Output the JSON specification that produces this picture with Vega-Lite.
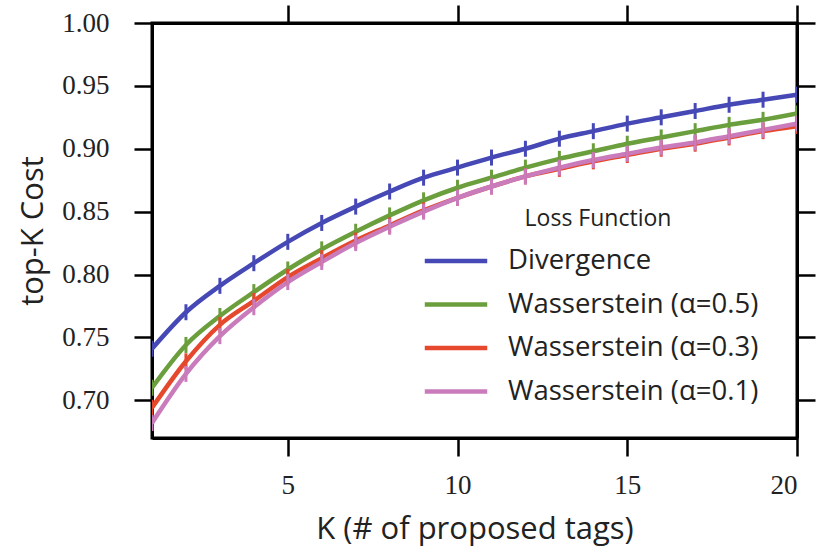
{
  "$schema": "https://vega.github.io/schema/vega-lite/v6.json",
  "autosize": "none",
  "padding": {"left": 152, "top": 23, "right": 20, "bottom": 118},
  "width": 645,
  "height": 415,
  "background": "white",
  "datasets": {
    "curves": [
      {"K": 1, "loss": "Divergence", "cost": 0.741}, {"K": 2, "loss": "Divergence", "cost": 0.770}, {"K": 3, "loss": "Divergence", "cost": 0.791}, {"K": 4, "loss": "Divergence", "cost": 0.809}, {"K": 5, "loss": "Divergence", "cost": 0.826}, {"K": 6, "loss": "Divergence", "cost": 0.841}, {"K": 7, "loss": "Divergence", "cost": 0.854}, {"K": 8, "loss": "Divergence", "cost": 0.866}, {"K": 9, "loss": "Divergence", "cost": 0.877}, {"K": 10, "loss": "Divergence", "cost": 0.885}, {"K": 11, "loss": "Divergence", "cost": 0.893}, {"K": 12, "loss": "Divergence", "cost": 0.900}, {"K": 13, "loss": "Divergence", "cost": 0.908}, {"K": 14, "loss": "Divergence", "cost": 0.914}, {"K": 15, "loss": "Divergence", "cost": 0.920}, {"K": 16, "loss": "Divergence", "cost": 0.925}, {"K": 17, "loss": "Divergence", "cost": 0.930}, {"K": 18, "loss": "Divergence", "cost": 0.935}, {"K": 19, "loss": "Divergence", "cost": 0.939}, {"K": 20, "loss": "Divergence", "cost": 0.943},
      {"K": 1, "loss": "Wasserstein (α=0.5)", "cost": 0.710}, {"K": 2, "loss": "Wasserstein (α=0.5)", "cost": 0.744}, {"K": 3, "loss": "Wasserstein (α=0.5)", "cost": 0.767}, {"K": 4, "loss": "Wasserstein (α=0.5)", "cost": 0.786}, {"K": 5, "loss": "Wasserstein (α=0.5)", "cost": 0.804}, {"K": 6, "loss": "Wasserstein (α=0.5)", "cost": 0.820}, {"K": 7, "loss": "Wasserstein (α=0.5)", "cost": 0.834}, {"K": 8, "loss": "Wasserstein (α=0.5)", "cost": 0.847}, {"K": 9, "loss": "Wasserstein (α=0.5)", "cost": 0.859}, {"K": 10, "loss": "Wasserstein (α=0.5)", "cost": 0.869}, {"K": 11, "loss": "Wasserstein (α=0.5)", "cost": 0.877}, {"K": 12, "loss": "Wasserstein (α=0.5)", "cost": 0.885}, {"K": 13, "loss": "Wasserstein (α=0.5)", "cost": 0.892}, {"K": 14, "loss": "Wasserstein (α=0.5)", "cost": 0.898}, {"K": 15, "loss": "Wasserstein (α=0.5)", "cost": 0.904}, {"K": 16, "loss": "Wasserstein (α=0.5)", "cost": 0.909}, {"K": 17, "loss": "Wasserstein (α=0.5)", "cost": 0.914}, {"K": 18, "loss": "Wasserstein (α=0.5)", "cost": 0.919}, {"K": 19, "loss": "Wasserstein (α=0.5)", "cost": 0.923}, {"K": 20, "loss": "Wasserstein (α=0.5)", "cost": 0.928},
      {"K": 1, "loss": "Wasserstein (α=0.3)", "cost": 0.694}, {"K": 2, "loss": "Wasserstein (α=0.3)", "cost": 0.731}, {"K": 3, "loss": "Wasserstein (α=0.3)", "cost": 0.760}, {"K": 4, "loss": "Wasserstein (α=0.3)", "cost": 0.779}, {"K": 5, "loss": "Wasserstein (α=0.3)", "cost": 0.798}, {"K": 6, "loss": "Wasserstein (α=0.3)", "cost": 0.813}, {"K": 7, "loss": "Wasserstein (α=0.3)", "cost": 0.827}, {"K": 8, "loss": "Wasserstein (α=0.3)", "cost": 0.839}, {"K": 9, "loss": "Wasserstein (α=0.3)", "cost": 0.851}, {"K": 10, "loss": "Wasserstein (α=0.3)", "cost": 0.861}, {"K": 11, "loss": "Wasserstein (α=0.3)", "cost": 0.870}, {"K": 12, "loss": "Wasserstein (α=0.3)", "cost": 0.878}, {"K": 13, "loss": "Wasserstein (α=0.3)", "cost": 0.884}, {"K": 14, "loss": "Wasserstein (α=0.3)", "cost": 0.890}, {"K": 15, "loss": "Wasserstein (α=0.3)", "cost": 0.895}, {"K": 16, "loss": "Wasserstein (α=0.3)", "cost": 0.900}, {"K": 17, "loss": "Wasserstein (α=0.3)", "cost": 0.904}, {"K": 18, "loss": "Wasserstein (α=0.3)", "cost": 0.909}, {"K": 19, "loss": "Wasserstein (α=0.3)", "cost": 0.914}, {"K": 20, "loss": "Wasserstein (α=0.3)", "cost": 0.918},
      {"K": 1, "loss": "Wasserstein (α=0.1)", "cost": 0.682}, {"K": 2, "loss": "Wasserstein (α=0.1)", "cost": 0.721}, {"K": 3, "loss": "Wasserstein (α=0.1)", "cost": 0.751}, {"K": 4, "loss": "Wasserstein (α=0.1)", "cost": 0.774}, {"K": 5, "loss": "Wasserstein (α=0.1)", "cost": 0.794}, {"K": 6, "loss": "Wasserstein (α=0.1)", "cost": 0.810}, {"K": 7, "loss": "Wasserstein (α=0.1)", "cost": 0.825}, {"K": 8, "loss": "Wasserstein (α=0.1)", "cost": 0.838}, {"K": 9, "loss": "Wasserstein (α=0.1)", "cost": 0.850}, {"K": 10, "loss": "Wasserstein (α=0.1)", "cost": 0.861}, {"K": 11, "loss": "Wasserstein (α=0.1)", "cost": 0.870}, {"K": 12, "loss": "Wasserstein (α=0.1)", "cost": 0.878}, {"K": 13, "loss": "Wasserstein (α=0.1)", "cost": 0.885}, {"K": 14, "loss": "Wasserstein (α=0.1)", "cost": 0.891}, {"K": 15, "loss": "Wasserstein (α=0.1)", "cost": 0.896}, {"K": 16, "loss": "Wasserstein (α=0.1)", "cost": 0.901}, {"K": 17, "loss": "Wasserstein (α=0.1)", "cost": 0.905}, {"K": 18, "loss": "Wasserstein (α=0.1)", "cost": 0.910}, {"K": 19, "loss": "Wasserstein (α=0.1)", "cost": 0.915}, {"K": 20, "loss": "Wasserstein (α=0.1)", "cost": 0.920}
    ]
  },
  "data": {"name": "curves"},
  "config": {
    "view": {"stroke": "black", "strokeWidth": 3},
    "axis": {
      "grid": false,
      "domainColor": "black",
      "domainWidth": 3,
      "tickColor": "black",
      "tickWidth": 2.5,
      "tickSize": 18,
      "labelFont": "Liberation Serif",
      "labelFontSize": 27,
      "labelColor": "#222222",
      "titleFont": "Open Sans",
      "titleFontSize": 31,
      "titleFontWeight": "normal",
      "titleColor": "#222222"
    }
  },
  "resolve": {"axis": {"x": "independent", "y": "independent"}},
  "layer": [
    {
      "mark": {"type": "line", "strokeWidth": 4.5, "interpolate": "monotone", "clip": true},
      "encoding": {
        "x": {"field": "K", "type": "quantitative", "scale": {"domain": [1, 20], "nice": false, "zero": false},
              "axis": {"values": [5, 10, 15, 20], "title": "K (# of proposed tags)", "labelPadding": 16, "titlePadding": 16}},
        "y": {"field": "cost", "type": "quantitative", "scale": {"domain": [0.67, 1.0], "nice": false, "zero": false},
              "axis": {"values": [0.7, 0.75, 0.8, 0.85, 0.9, 0.95, 1.0], "format": ".2f", "title": "top-K Cost", "labelPadding": 25, "titlePadding": 12}},
        "color": {
          "field": "loss", "type": "nominal",
          "scale": {"domain": ["Divergence", "Wasserstein (α=0.5)", "Wasserstein (α=0.3)", "Wasserstein (α=0.1)"],
                    "range": ["#4548b5", "#6b9e3c", "#e5482c", "#c97bbb"]},
          "legend": {
            "title": "Loss Function",
            "orient": "none",
            "legendX": 286,
            "legendY": 185,
            "titleFont": "Open Sans",
            "titleFontSize": 23,
            "titleFontWeight": "normal",
            "titleColor": "#222222",
            "titleAnchor": "middle",
            "titlePadding": 12,
            "titleLimit": 0,
            "labelFont": "Open Sans",
            "labelFontSize": 27.5,
            "labelLimit": 0,
            "labelColor": "#222222",
            "labelOffset": 34,
            "symbolType": "M-2,0H2",
            "symbolSize": 975,
            "symbolStrokeWidth": 4.5,
            "symbolFillColor": "transparent",
            "rowPadding": 11.5
          }
        }
      }
    },
    {
      "mark": {"type": "tick", "orient": "vertical", "size": 16, "thickness": 3, "opacity": 1, "clip": true},
      "encoding": {
        "x": {"field": "K", "type": "quantitative",
              "axis": {"orient": "top", "values": [5, 10, 15, 20], "labels": false, "title": null}},
        "y": {"field": "cost", "type": "quantitative",
              "axis": {"orient": "right", "values": [0.7, 0.75, 0.8, 0.85, 0.9, 0.95, 1.0], "labels": false, "title": null}},
        "color": {"field": "loss", "type": "nominal", "legend": null}
      }
    }
  ]
}
